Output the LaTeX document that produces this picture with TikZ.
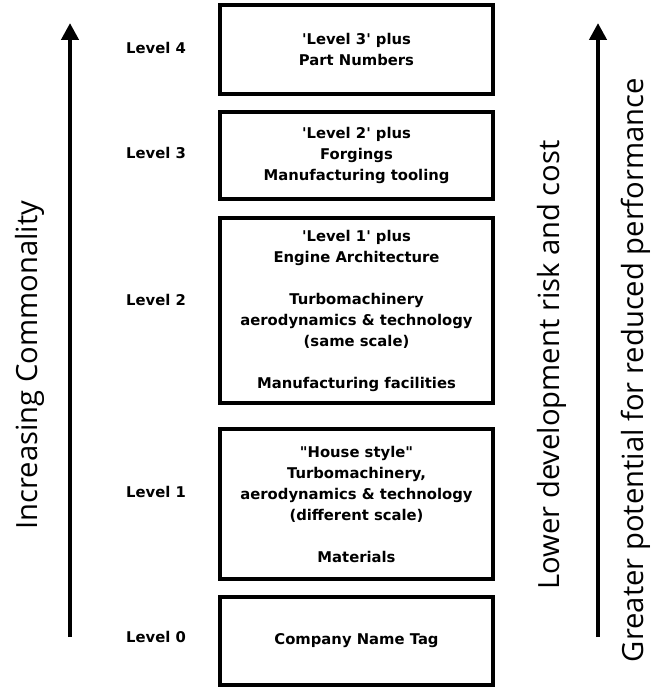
\documentclass[tikz,border=0pt]{standalone}
\usepackage{fontspec}
% straight quote marks are kept as typed
\setmainfont{DejaVu Sans}[Ligatures=TeXOff]
\newfontfamily\sidefont{Open Sans}
\usetikzlibrary{arrows.meta}
\tikzset{
  levelbox/.style={draw, line width=4.5pt, rectangle, inner sep=0pt, outer sep=0pt,
    minimum width=273pt, align=center, font=\fontsize{14.8pt}{21pt}\selectfont\bfseries},
  levellabel/.style={font=\fontsize{14.8pt}{17pt}\selectfont\bfseries, inner sep=0pt},
  sidelabel/.style={rotate=90, font=\fontsize{29.2pt}{34pt}\selectfont\sidefont, inner sep=0pt},
  bigarrow/.style={line width=4.5pt, -{Triangle[length=17pt,width=17pt]}}
}
\begin{document}
\begin{tikzpicture}[x=1pt,y=-1pt]
\useasboundingbox (0,0) rectangle (660,687);

% level boxes, bottom (0) to top (4)
\node[levelbox, minimum height=88pt] (b0) at (356.5,641) {Company Name Tag};
\node[levelbox, minimum height=150pt] (b1) at (356.5,504)
  {"House style"\\Turbomachinery,\\aerodynamics \& technology\\(different scale)\\[21pt]Materials};
\node[levelbox, minimum height=185pt] (b2) at (356.5,310.5)
  {'Level 1' plus\\Engine Architecture\\[21pt]Turbomachinery\\aerodynamics \& technology\\(same scale)\\[21pt]Manufacturing facilities};
\node[levelbox, minimum height=87pt] (b3) at (356.5,155.5)
  {'Level 2' plus\\Forgings\\Manufacturing tooling};
\node[levelbox, minimum height=89pt] (b4) at (356.5,49.5)
  {'Level 3' plus\\Part Numbers};

% level names
\node[levellabel] (l4) at (156,48) {Level 4};
\node[levellabel] (l3) at (156,153) {Level 3};
\node[levellabel] (l2) at (156,300) {Level 2};
\node[levellabel] (l1) at (156,492) {Level 1};
\node[levellabel] (l0) at (156,637) {Level 0};

% trend arrows
\coordinate (la0) at (70,637);
\coordinate (la1) at (70,23);
\coordinate (ra0) at (598,637);
\coordinate (ra1) at (598,23);
\draw[bigarrow] (la0) -- (la1);
\draw[bigarrow] (ra0) -- (ra1);

% side captions
\node[sidelabel] (inc) at (30,365) {Increasing Commonality};
\node[sidelabel] (low) at (552,365) {Lower development risk and cost};
\node[sidelabel] (gre) at (636,370) {Greater potential for reduced performance};
\end{tikzpicture}
\end{document}
